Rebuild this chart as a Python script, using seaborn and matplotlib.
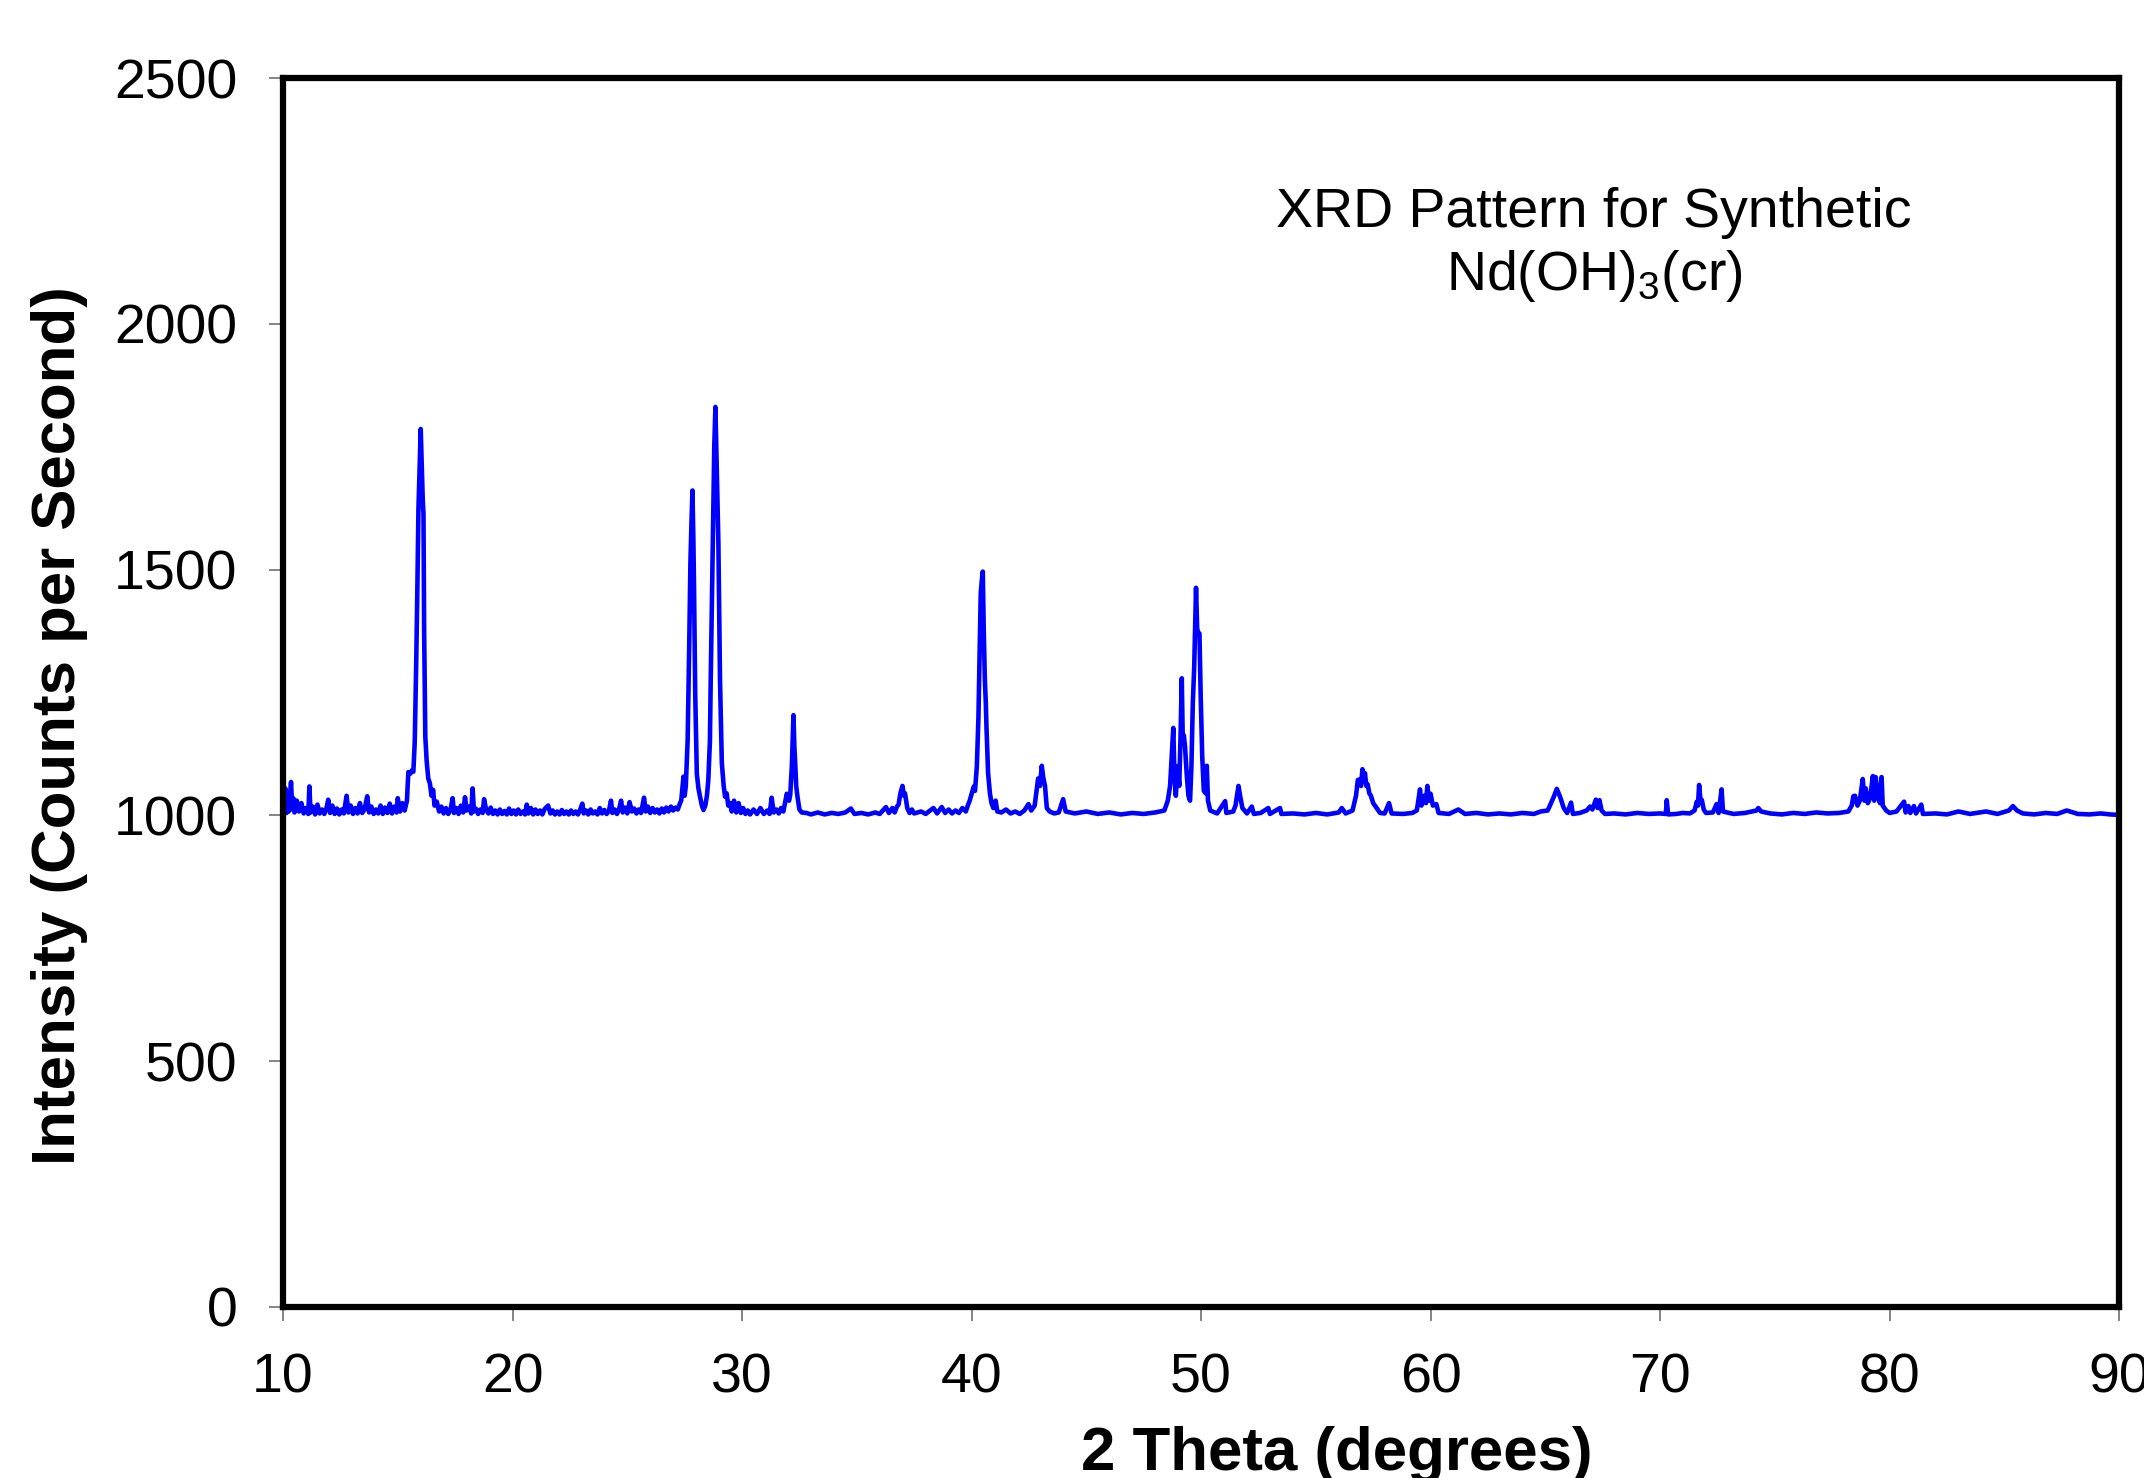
import numpy as np
import pandas as pd
import seaborn as sns
import matplotlib.pyplot as plt

# XRD pattern of synthetic Nd(OH)3(cr)
# (2 theta in degrees, intensity in counts per second)
scan_10_21 = [
    (10.0, 1040), (10.05, 1010), (10.1, 1055), (10.15, 1005), (10.2, 1030), (10.25, 1008),
    (10.35, 1068), (10.4, 1012), (10.45, 1035), (10.5, 1006), (10.6, 1030), (10.7, 1008),
    (10.8, 1025), (10.9, 1004), (11.0, 1015), (11.1, 1003), (11.15, 1059), (11.2, 1006),
    (11.3, 1018), (11.4, 1002), (11.5, 1022), (11.6, 1004), (11.7, 1012), (11.8, 1003),
    (11.9, 1016), (11.97, 1032), (12.05, 1005), (12.15, 1020), (12.25, 1003), (12.35, 1014),
    (12.45, 1002), (12.55, 1012), (12.65, 1004), (12.77, 1040), (12.85, 1006), (12.95, 1020),
    (13.05, 1003), (13.15, 1015), (13.25, 1004), (13.35, 1025), (13.45, 1005), (13.55, 1012),
    (13.67, 1039), (13.75, 1006), (13.85, 1018), (13.95, 1003), (14.05, 1012), (14.15, 1004),
    (14.25, 1020), (14.35, 1003), (14.45, 1016), (14.55, 1005), (14.65, 1024), (14.75, 1004),
    (14.85, 1018), (14.95, 1006), (15.0, 1035), (15.1, 1008), (15.2, 1025), (15.3, 1010),
    (15.4, 1030), (15.46, 1088), (15.55, 1085), (15.62, 1092), (15.68, 1089), (15.74, 1150),
    (15.8, 1300), (15.85, 1450), (15.9, 1621), (15.95, 1700), (16.0, 1786), (16.04, 1720),
    (16.09, 1640), (16.12, 1614), (16.15, 1370), (16.2, 1160), (16.26, 1110), (16.33, 1075),
    (16.4, 1065), (16.47, 1040), (16.54, 1052), (16.6, 1020), (16.7, 1028), (16.8, 1008),
    (16.9, 1018), (17.0, 1004), (17.1, 1015), (17.2, 1003), (17.3, 1012), (17.39, 1035),
    (17.45, 1005), (17.55, 1015), (17.65, 1003), (17.75, 1020), (17.85, 1006), (17.93, 1037),
    (18.0, 1010), (18.1, 1018), (18.2, 1004), (18.26, 1055), (18.32, 1008), (18.4, 1014),
    (18.5, 1003), (18.6, 1012), (18.7, 1005), (18.76, 1033), (18.85, 1012), (18.95, 1004),
    (19.05, 1016), (19.15, 1003), (19.25, 1010), (19.35, 1002), (19.45, 1012), (19.55, 1003),
    (19.65, 1009), (19.75, 1002), (19.85, 1014), (19.95, 1003), (20.05, 1010), (20.15, 1002),
    (20.25, 1012), (20.35, 1003), (20.45, 1008), (20.55, 1002), (20.62, 1022), (20.7, 1004),
    (20.8, 1015), (20.9, 1002),
]

scan_21_33 = [
    (21.0, 1012), (21.1, 1003), (21.2, 1010), (21.3, 1002), (21.4, 1013), (21.55, 1020),
    (21.65, 1004), (21.75, 1010), (21.85, 1002), (21.95, 1008), (22.05, 1002), (22.15, 1011),
    (22.25, 1003), (22.35, 1008), (22.45, 1002), (22.55, 1010), (22.65, 1003), (22.75, 1008),
    (22.85, 1002), (22.95, 1012), (23.04, 1024), (23.1, 1004), (23.2, 1010), (23.3, 1002),
    (23.4, 1012), (23.5, 1004), (23.6, 1008), (23.7, 1002), (23.8, 1015), (23.9, 1004),
    (24.0, 1011), (24.1, 1003), (24.2, 1009), (24.29, 1030), (24.35, 1005), (24.45, 1012),
    (24.55, 1003), (24.65, 1014), (24.73, 1030), (24.8, 1006), (24.9, 1016), (25.0, 1004),
    (25.1, 1027), (25.2, 1008), (25.3, 1014), (25.4, 1004), (25.5, 1012), (25.6, 1005),
    (25.73, 1036), (25.8, 1008), (25.9, 1018), (26.0, 1005), (26.1, 1015), (26.2, 1006),
    (26.3, 1012), (26.4, 1004), (26.5, 1014), (26.6, 1006), (26.7, 1016), (26.8, 1008),
    (26.9, 1018), (27.0, 1010), (27.1, 1016), (27.2, 1012), (27.3, 1025), (27.35, 1030),
    (27.45, 1079), (27.5, 1040), (27.55, 1060), (27.63, 1153), (27.7, 1350), (27.75, 1513),
    (27.8, 1600), (27.84, 1661), (27.88, 1560), (27.91, 1458), (27.96, 1248), (28.03, 1085),
    (28.1, 1055), (28.17, 1038), (28.25, 1020), (28.32, 1011), (28.4, 1020), (28.47, 1040),
    (28.53, 1072), (28.6, 1150), (28.64, 1290), (28.7, 1479), (28.75, 1650), (28.79, 1750),
    (28.84, 1831), (28.9, 1700), (28.97, 1553), (29.04, 1275), (29.12, 1106), (29.2, 1060),
    (29.26, 1038), (29.33, 1045), (29.4, 1020), (29.48, 1025), (29.55, 1008), (29.65, 1030),
    (29.75, 1006), (29.85, 1025), (29.95, 1005), (30.05, 1015), (30.15, 1003), (30.25, 1010),
    (30.35, 1002), (30.5, 1012), (30.65, 1003), (30.8, 1015), (30.95, 1003), (31.1, 1010),
    (31.2, 1003), (31.29, 1036), (31.38, 1006), (31.5, 1012), (31.6, 1004), (31.7, 1015),
    (31.8, 1008), (31.95, 1044), (32.05, 1030), (32.1, 1042), (32.17, 1100), (32.24, 1204),
    (32.28, 1140), (32.31, 1113), (32.36, 1060), (32.41, 1040), (32.5, 1012), (32.6, 1006),
    (32.8, 1005),
]

scan_33_54 = [
    (33.0, 1002), (33.3, 1006), (33.6, 1002), (33.9, 1005), (34.2, 1003), (34.5, 1006),
    (34.74, 1014), (34.9, 1003), (35.2, 1005), (35.5, 1002), (35.8, 1006), (36.0, 1003),
    (36.27, 1017), (36.4, 1005), (36.55, 1015), (36.65, 1006), (36.75, 1018), (36.82, 1022),
    (36.9, 1045), (36.99, 1060), (37.05, 1040), (37.1, 1045), (37.2, 1015), (37.3, 1005),
    (37.4, 1012), (37.5, 1004), (37.8, 1008), (38.0, 1003), (38.34, 1015), (38.5, 1004),
    (38.7, 1017), (38.85, 1005), (39.0, 1012), (39.15, 1004), (39.3, 1010), (39.45, 1005),
    (39.6, 1015), (39.75, 1008), (39.85, 1022), (39.92, 1030), (40.01, 1045), (40.1, 1059),
    (40.15, 1050), (40.23, 1099), (40.3, 1200), (40.35, 1323), (40.4, 1452), (40.45, 1480),
    (40.49, 1496), (40.53, 1380), (40.58, 1275), (40.62, 1230), (40.65, 1180), (40.72, 1086),
    (40.8, 1045), (40.87, 1025), (40.95, 1015), (41.05, 1030), (41.12, 1008), (41.3, 1006),
    (41.5, 1012), (41.7, 1004), (41.9, 1008), (42.1, 1003), (42.3, 1010), (42.48, 1023),
    (42.6, 1010), (42.75, 1020), (42.9, 1075), (42.98, 1060), (43.06, 1101), (43.12, 1078),
    (43.2, 1060), (43.28, 1015), (43.4, 1008), (43.6, 1004), (43.8, 1006), (43.99, 1033),
    (44.1, 1008), (44.5, 1004), (45.0, 1008), (45.5, 1003), (46.0, 1006), (46.5, 1002),
    (47.0, 1005), (47.5, 1003), (48.0, 1006), (48.4, 1010), (48.55, 1030), (48.65, 1060),
    (48.72, 1120), (48.79, 1178), (48.84, 1080), (48.9, 1040), (48.98, 1100), (49.05, 1060),
    (49.1, 1150), (49.16, 1279), (49.2, 1160), (49.25, 1163), (49.3, 1140), (49.38, 1080),
    (49.45, 1040), (49.52, 1030), (49.58, 1100), (49.64, 1228), (49.7, 1300), (49.78, 1463),
    (49.83, 1380), (49.88, 1370), (49.93, 1370), (49.98, 1250), (50.05, 1120), (50.12, 1050),
    (50.2, 1045), (50.25, 1101), (50.3, 1030), (50.4, 1010), (50.7, 1004), (51.05, 1029),
    (51.1, 1005), (51.4, 1008), (51.5, 1020), (51.63, 1060), (51.7, 1040), (51.8, 1015),
    (52.0, 1004), (52.21, 1018), (52.3, 1003), (52.6, 1005), (52.93, 1015), (53.0, 1003),
    (53.44, 1015), (53.5, 1003),
]

scan_54_90 = [
    (54.0, 1004), (54.5, 1002), (55.0, 1005), (55.5, 1002), (56.0, 1006), (56.13, 1015),
    (56.3, 1004), (56.6, 1010), (56.75, 1040), (56.83, 1072), (56.9, 1073), (56.97, 1060),
    (57.03, 1094), (57.1, 1070), (57.14, 1086), (57.2, 1060), (57.26, 1063), (57.33, 1045),
    (57.4, 1040), (57.5, 1025), (57.65, 1015), (57.8, 1005), (58.0, 1004), (58.19, 1025),
    (58.3, 1004), (58.8, 1003), (59.2, 1005), (59.4, 1010), (59.54, 1053), (59.6, 1020),
    (59.72, 1040), (59.8, 1025), (59.86, 1060), (59.93, 1030), (60.0, 1044), (60.1, 1020),
    (60.25, 1023), (60.35, 1005), (60.8, 1003), (61.21, 1012), (61.5, 1003), (62.0, 1005),
    (62.5, 1002), (63.0, 1004), (63.5, 1002), (64.0, 1005), (64.5, 1003), (64.8, 1008),
    (65.1, 1010), (65.2, 1020), (65.36, 1037), (65.5, 1054), (65.65, 1037), (65.8, 1015),
    (65.95, 1005), (66.12, 1026), (66.2, 1003), (66.5, 1005), (66.8, 1010), (66.95, 1018),
    (67.05, 1012), (67.2, 1032), (67.28, 1015), (67.36, 1031), (67.45, 1010), (67.6, 1003),
    (68.0, 1004), (68.5, 1002), (69.0, 1005), (69.5, 1003), (70.0, 1004), (70.25, 1003),
    (70.29, 1031), (70.35, 1002), (70.7, 1003), (71.0, 1005), (71.3, 1004), (71.5, 1010),
    (71.6, 1028), (71.65, 1020), (71.7, 1062), (71.75, 1035), (71.82, 1031), (71.9, 1012),
    (72.0, 1005), (72.3, 1006), (72.46, 1023), (72.55, 1005), (72.68, 1053), (72.74, 1008),
    (73.2, 1003), (73.7, 1005), (74.2, 1010), (74.28, 1015), (74.4, 1008), (74.8, 1004),
    (75.3, 1002), (75.8, 1005), (76.3, 1003), (76.8, 1006), (77.3, 1004), (77.8, 1005),
    (78.2, 1008), (78.35, 1020), (78.42, 1039), (78.49, 1040), (78.6, 1020), (78.7, 1030),
    (78.83, 1074), (78.9, 1030), (78.96, 1055), (79.05, 1025), (79.15, 1035), (79.27, 1080),
    (79.33, 1030), (79.39, 1078), (79.5, 1040), (79.58, 1025), (79.65, 1078), (79.7, 1020),
    (79.85, 1010), (80.0, 1005), (80.3, 1008), (80.63, 1028), (80.7, 1006), (80.82, 1019),
    (80.9, 1005), (81.06, 1019), (81.15, 1004), (81.38, 1022), (81.45, 1003), (82.0, 1004),
    (82.5, 1002), (83.0, 1008), (83.5, 1003), (84.2, 1008), (84.7, 1003), (85.2, 1010),
    (85.37, 1019), (85.55, 1010), (85.8, 1004), (86.3, 1002), (86.8, 1005), (87.3, 1003),
    (87.72, 1010), (88.2, 1003), (88.7, 1002), (89.2, 1004), (89.6, 1002), (90.0, 1001),
]

x_ticks = [10, 20, 30, 40, 50, 60, 70, 80, 90]
y_ticks = [0, 500, 1000, 1500, 2000, 2500]


def build_frame():
    rows = scan_10_21 + scan_21_33 + scan_33_54 + scan_54_90
    return pd.DataFrame(rows, columns=["two_theta", "cps"])


def draw_pattern():
    sns.set_theme(style="white")
    plt.rcParams['font.family'] = ['Liberation Sans', 'DejaVu Sans']
    plt.rcParams['mathtext.fontset'] = 'custom'
    plt.rcParams['mathtext.rm'] = 'Liberation Sans'
    plt.rcParams['text.color'] = 'black'
    plt.rcParams['axes.labelcolor'] = 'black'

    fig = plt.figure(figsize=(21.44, 14.78), dpi=100, facecolor="white")
    ax = fig.add_axes([0.132, 0.1157, 0.8564, 0.8315])

    df = build_frame()
    sns.lineplot(data=df, x="two_theta", y="cps", sort=False, estimator=None,
                 color="#0000FF", linewidth=3.3, ax=ax)

    ax.set_xlim(10, 90)
    ax.set_ylim(0, 2500)
    ax.set_xticks(x_ticks)
    ax.set_yticks(y_ticks)
    ax.tick_params(axis="both", direction="out", length=10, width=1.2,
                   color="#707070", labelsize=40, labelcolor="black", pad=23,
                   bottom=True, left=True)
    for s in ax.spines.values():
        s.set_color("black")
        s.set_linewidth(4.5)

    ax.set_xlabel("2 Theta (degrees)", fontsize=44.5, fontweight="bold")
    ax.set_ylabel("Intensity (Counts per Second)", fontsize=44.5, fontweight="bold")
    ax.xaxis.set_label_coords(0.574, -0.097)
    ax.xaxis.label.set_va("top")
    ax.yaxis.set_label_coords(-0.106, 0.473)

    ax.text(0.714, 0.879, "XRD Pattern for Synthetic", transform=ax.transAxes,
            ha="center", va="baseline", fontsize=40)
    ax.text(0.714, 0.8275, r"Nd(OH)$_{\mathregular{3}}$(cr)", transform=ax.transAxes,
            ha="center", va="baseline", fontsize=40)

    fig.savefig("out.png", dpi=100, facecolor="white")


if __name__ == '__main__':
    draw_pattern()
